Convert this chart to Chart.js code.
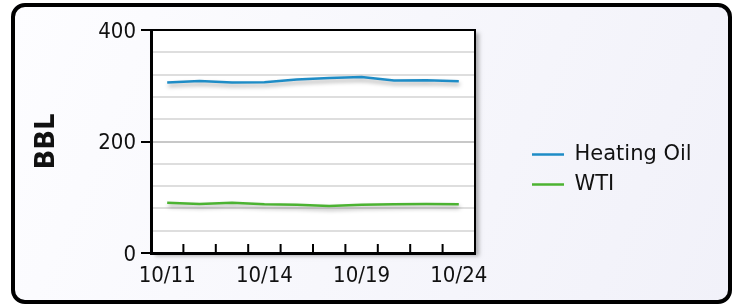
<!DOCTYPE html>
<html lang="en">
<head>
    <meta charset="UTF-8">
    <title>Heating Oil vs WTI</title>
    <script src="https://cdn.jsdelivr.net/npm/chart.js"></script>
    <style>
        html, body { margin: 0; padding: 0; background: #fff; }
        #wrap { width: 737px; height: 305px; }
    </style>
</head>
<body>
    <div id="wrap"><canvas id="oilChart" width="737" height="305"></canvas></div>

    <script>
        // data
        const dates = ["10/11", "10/12", "10/13", "10/14", "10/17", "10/18", "10/19", "10/20", "10/21", "10/24"];
        const heatingOil = [305.7, 308.7, 305.7, 306.3, 311.1, 314.1, 315.9, 309.3, 309.9, 308.1];
        const wti = [90.2, 87.9, 90.2, 87.3, 86.7, 84.3, 86.7, 87.3, 87.9, 87.3];
        const yLabelled = [0, 200, 400];

        const FONT = "'DejaVu Sans', Verdana, sans-serif";
        const TICK_FONT = "'DejaVu Sans Condensed', 'DejaVu Sans', sans-serif";

        // frame, background, plot box shadow, line shadows
        const framePlugin = {
            id: "frame",
            afterLayout(chart) {
                // legend sits further right than the layout would put it
                let lg = chart.legend;
                lg.left = 523;
                lg.right = 737;
                lg.width = 214;
                lg.top += 2;
                lg.bottom += 2;
            },
            beforeDraw(chart) {
                let ctx = chart.ctx;
                let area = chart.chartArea;
                ctx.save();
                ctx.fillStyle = "#ffffff";
                ctx.fillRect(0, 0, chart.width, chart.height);

                let grad = ctx.createLinearGradient(13, 5, 730, 302);
                grad.addColorStop(0, "#fdfdff");
                grad.addColorStop(1, "#f1f1f9");
                ctx.beginPath();
                ctx.roundRect(13, 5, 717, 297, 12);
                ctx.fillStyle = grad;
                ctx.fill();
                ctx.lineWidth = 4;
                ctx.strokeStyle = "#000";
                ctx.stroke();

                ctx.shadowColor = "rgba(0,0,0,0.3)";
                ctx.shadowBlur = 4;
                ctx.shadowOffsetX = 4;
                ctx.shadowOffsetY = 3;
                ctx.fillStyle = "#ffffff";
                ctx.fillRect(area.left, area.top, area.right - area.left, area.bottom - area.top);
                ctx.restore();
            },
            beforeDatasetsDraw(chart) {
                let ctx = chart.ctx;
                ctx.save();
                ctx.shadowColor = "rgba(0,0,0,0.35)";
                ctx.shadowBlur = 4;
                ctx.shadowOffsetX = 1;
                ctx.shadowOffsetY = 3;
            },
            afterDatasetsDraw(chart) {
                chart.ctx.restore();
            },
            afterDraw(chart) {
                let ctx = chart.ctx;
                let area = chart.chartArea;
                let xs = chart.scales.x;
                ctx.save();
                ctx.strokeStyle = "#000";
                ctx.lineWidth = 2;
                ctx.beginPath();
                ctx.moveTo(area.left, area.top);
                ctx.lineTo(area.right, area.top);
                ctx.lineTo(area.right, area.bottom);
                ctx.stroke();

                // short tick marks inside the plot, between categories
                ctx.beginPath();
                for (let i = 1; i < dates.length; i++) {
                    let x = (xs.getPixelForValue(i - 1) + xs.getPixelForValue(i)) / 2;
                    ctx.moveTo(x, area.bottom);
                    ctx.lineTo(x, area.bottom - 9);
                }
                ctx.stroke();
                ctx.restore();
            }
        };

        new Chart(document.getElementById("oilChart"), {
            type: "line",
            data: {
                labels: dates,
                datasets: [{
                    label: "Heating Oil",
                    data: heatingOil,
                    borderColor: "#1e8cc6",
                    backgroundColor: "#1e8cc6",
                    borderWidth: 2.5,
                    pointRadius: 0,
                    tension: 0
                }, {
                    label: "WTI",
                    data: wti,
                    borderColor: "#4cb332",
                    backgroundColor: "#4cb332",
                    borderWidth: 2.5,
                    pointRadius: 0,
                    tension: 0
                }]
            },
            options: {
                responsive: false,
                animation: false,
                layout: { padding: { top: 30, bottom: 0, left: 20, right: 202 } },
                plugins: {
                    tooltip: { enabled: false },
                    legend: {
                        position: "right",
                        align: "center",
                        maxWidth: 60,
                        labels: {
                            boxWidth: 32,
                            boxHeight: 0,
                            padding: 9,
                            color: "#111",
                            font: { family: FONT, size: 21 }
                        }
                    }
                },
                scales: {
                    x: {
                        offset: true,
                        grid: { display: false, drawTicks: false },
                        border: { color: "#000", width: 3 },
                        ticks: {
                            autoSkip: false,
                            maxRotation: 0,
                            padding: 10,
                            color: "#111",
                            font: { family: TICK_FONT, size: 22 },
                            callback: (v, i) => i % 3 === 0 ? dates[i] : ""
                        },
                        afterFit: s => { s.height = 52; }
                    },
                    y: {
                        min: 0,
                        max: 400,
                        border: { color: "#000", width: 3 },
                        grid: {
                            lineWidth: 2,
                            tickLength: 10,
                            color: c => (c.tick.value === 0 || c.tick.value === 400) ? "rgba(0,0,0,0)" :
                                (c.tick.value === 200 ? "#c8c8c8" : "#dedede"),
                            tickColor: c => yLabelled.includes(c.tick.value) ? "#000" : "rgba(0,0,0,0)",
                            tickWidth: 2
                        },
                        ticks: {
                            stepSize: 40,
                            autoSkip: false,
                            padding: 5,
                            labelOffset: 2,
                            color: "#111",
                            font: { family: TICK_FONT, size: 22 },
                            callback: v => yLabelled.includes(v) ? v : ""
                        },
                        title: {
                            display: true,
                            text: "BBL",
                            color: "#111",
                            padding: { top: 12, bottom: 0 },
                            font: { family: FONT, size: 26, weight: "bold" }
                        },
                        afterFit: s => { s.width = 131; }
                    }
                }
            },
            plugins: [framePlugin]
        });
    </script>
</body>
</html>
